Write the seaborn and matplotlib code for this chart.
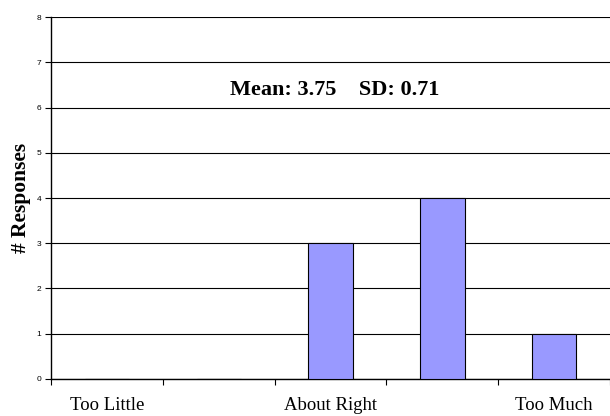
import matplotlib
matplotlib.use("Agg")
import matplotlib.pyplot as plt
import seaborn as sns
import pandas as pd
import numpy as np

# Survey responses per rating level (1 = Too Little ... 5 = Too Much)
levels = [1, 2, 3, 4, 5]
counts = [0, 0, 3, 4, 1]
level_labels = ["Too Little", "", "About Right", "", "Too Much"]
mean_value = 3.75
sd_value = 0.71

df = pd.DataFrame({"level": levels, "count": counts})

sns.set_style("white")
plt.rcParams.update({
    "text.color": "black",
    "axes.labelcolor": "black",
    "xtick.color": "black",
    "ytick.color": "black",
})
fig = plt.figure(figsize=(6.1, 4.16), dpi=100)
ax = fig.add_axes([0.084, 0.089, 0.916, 0.870])

sns.barplot(data=df, x="level", y="count", color="#9999FF", width=0.4,
            edgecolor="black", linewidth=0.8, saturation=1, ax=ax, zorder=3)

ax.set_xlim(-0.5, len(levels) - 0.5)
ax.set_ylim(0, 8)

# horizontal gridlines
ax.set_yticks(range(0, 9))
ax.yaxis.grid(True, color="black", linewidth=0.8, zorder=0)
ax.xaxis.grid(False)
ax.set_axisbelow(True)

# tick marks at category boundaries, labels at category centres
ax.set_xticks(np.arange(-0.5, len(levels), 1.0))
ax.set_xticklabels([])
ax.set_xticks(np.arange(len(levels)), minor=True)
ax.set_xticklabels(level_labels, minor=True, fontfamily="Liberation Serif", fontsize=13.5)
ax.tick_params(axis="x", which="major", direction="out", length=4, width=0.8,
               color="black", bottom=True)
ax.tick_params(axis="x", which="minor", length=0, pad=13)
ax.tick_params(axis="y", direction="out", length=4, width=0.8, color="black",
               left=True, labelsize=6, pad=3)
for lbl in ax.get_yticklabels():
    lbl.set_fontfamily("Liberation Sans")

for side in ["top", "right"]:
    ax.spines[side].set_visible(False)
for side in ["left", "bottom"]:
    ax.spines[side].set_color("black")
    ax.spines[side].set_linewidth(1.0)

ax.set_xlabel("")
ax.set_ylabel("# Responses", fontfamily="Liberation Serif", fontweight="bold",
              fontsize=15.5, labelpad=4.5)

ax.text(2.04, 6.28, f"Mean: {mean_value:.2f}    SD: {sd_value:.2f}", ha="center", va="baseline",
        fontfamily="Liberation Serif", fontweight="bold", fontsize=16)

fig.savefig("out.png", dpi=100)
